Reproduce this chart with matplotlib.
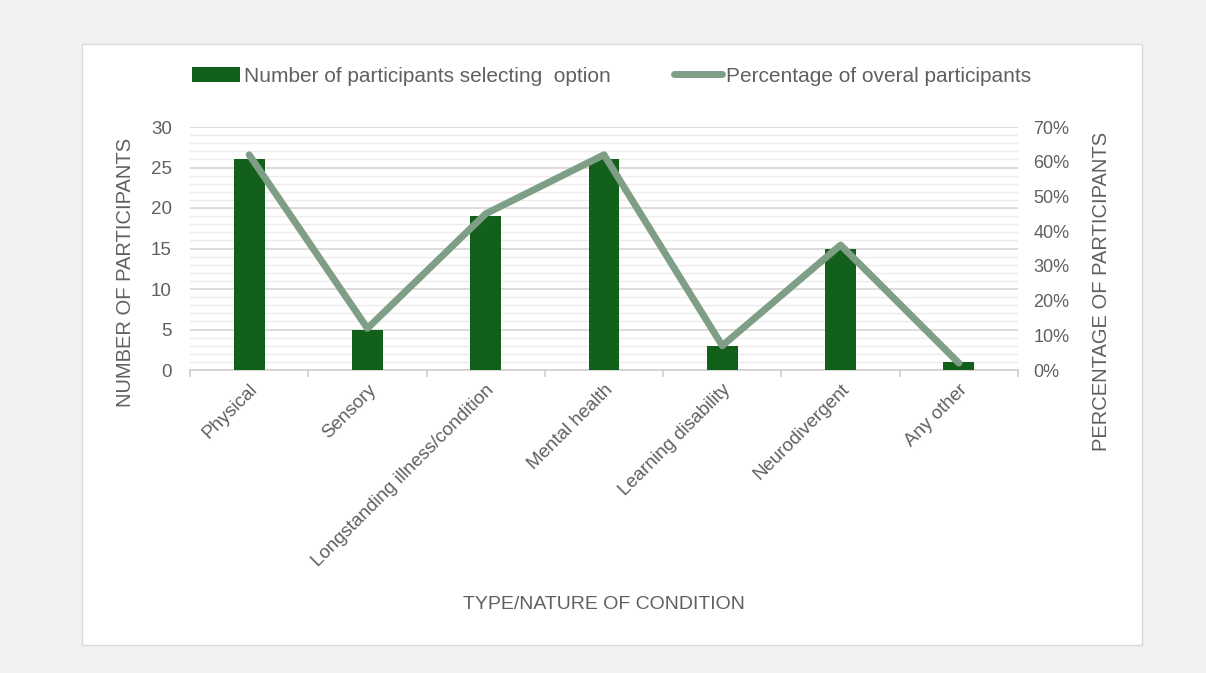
import numpy as np
import matplotlib.pyplot as plt
from matplotlib.patches import Rectangle
from matplotlib.ticker import MultipleLocator, PercentFormatter

categories = ["Physical", "Sensory", "Longstanding illness/condition", "Mental health",
              "Learning disability", "Neurodivergent", "Any other"]
participants = [26, 5, 19, 26, 3, 15, 1]
percentages = [0.62, 0.12, 0.45, 0.62, 0.07, 0.36, 0.02]

bar_color = "#13601b"
line_color = "#7f9e86"
text_color = "#606060"

plt.rcParams['font.family'] = ['Liberation Sans', 'DejaVu Sans']

fig = plt.figure(figsize=(12.06, 6.73), dpi=100)
fig.patch.set_facecolor("#f1f1f1")
fig.patches.append(Rectangle((82 / 1206, 1 - 645 / 673), 1060 / 1206, 601 / 673,
                             transform=fig.transFigure, facecolor="white",
                             edgecolor="#d9d9d9", lw=1, zorder=-5))

ax = fig.add_axes([190 / 1206, 1 - 370 / 673, 828 / 1206, 243 / 673])
ax.set_facecolor("none")
x = np.arange(len(categories))
bars = ax.bar(x, participants, width=0.26, color=bar_color, zorder=3,
              label="Number of participants selecting  option")
ax.set_xlim(-0.5, len(categories) - 0.5)
ax.set_ylim(0, 30)
ax.yaxis.set_major_locator(MultipleLocator(5))
ax.yaxis.set_minor_locator(MultipleLocator(1))
ax.grid(axis="y", which="major", color="#d6d6d6", lw=1.2, zorder=0)
ax.grid(axis="y", which="minor", color="#ececec", lw=1.0, zorder=0)
for s in ["top", "right", "left"]:
    ax.spines[s].set_visible(False)
ax.spines["bottom"].set_color("#d0d0d0")
ax.spines["bottom"].set_linewidth(1.2)
ax.tick_params(axis="y", which="both", length=0, labelsize=13.5, labelcolor=text_color, pad=13)
ax.set_xticks(x)
ax.set_xticklabels(categories, rotation=45, ha="right", rotation_mode="anchor",
                   fontsize=13.5, color=text_color)
ax.tick_params(axis="x", which="major", length=0, pad=8)
ax.set_xticks(np.arange(-0.5, len(categories)), minor=True)
ax.tick_params(axis="x", which="minor", length=5, color="#d0d0d0", width=1.2)
ax.set_ylabel("NUMBER OF PARTICIPANTS", fontsize=14.5, color=text_color)
ax.yaxis.set_label_coords(-0.066, 0.403)
ax.set_xlabel("TYPE/NATURE OF CONDITION", fontsize=14, color=text_color)
ax.xaxis.set_label_coords(0.5, -0.93)

ax2 = ax.twinx()
line, = ax2.plot(x, percentages, color=line_color, lw=5, zorder=4,
                 solid_capstyle="round", label="Percentage of overal participants")
ax2.set_ylim(0, 0.7)
ax2.yaxis.set_major_locator(MultipleLocator(0.1))
ax2.yaxis.set_major_formatter(PercentFormatter(1.0, decimals=0))
for s in ax2.spines.values():
    s.set_visible(False)
ax2.tick_params(axis="y", length=0, labelsize=13, labelcolor=text_color, pad=11)
ax2.set_ylabel("PERCENTAGE OF PARTICIPANTS", fontsize=14.5, color=text_color, rotation=90)
ax2.yaxis.set_label_coords(1.089, 0.325)

fig.legend([bars, line], [bars.get_label(), line.get_label()], loc="center left",
           bbox_to_anchor=(173 / 1206, 1 - 76 / 673), ncol=2, frameon=False,
           fontsize=15, labelcolor=text_color, handlelength=2.3, handletextpad=0.2,
           columnspacing=3.05)

fig.savefig("out.png", dpi=100)
